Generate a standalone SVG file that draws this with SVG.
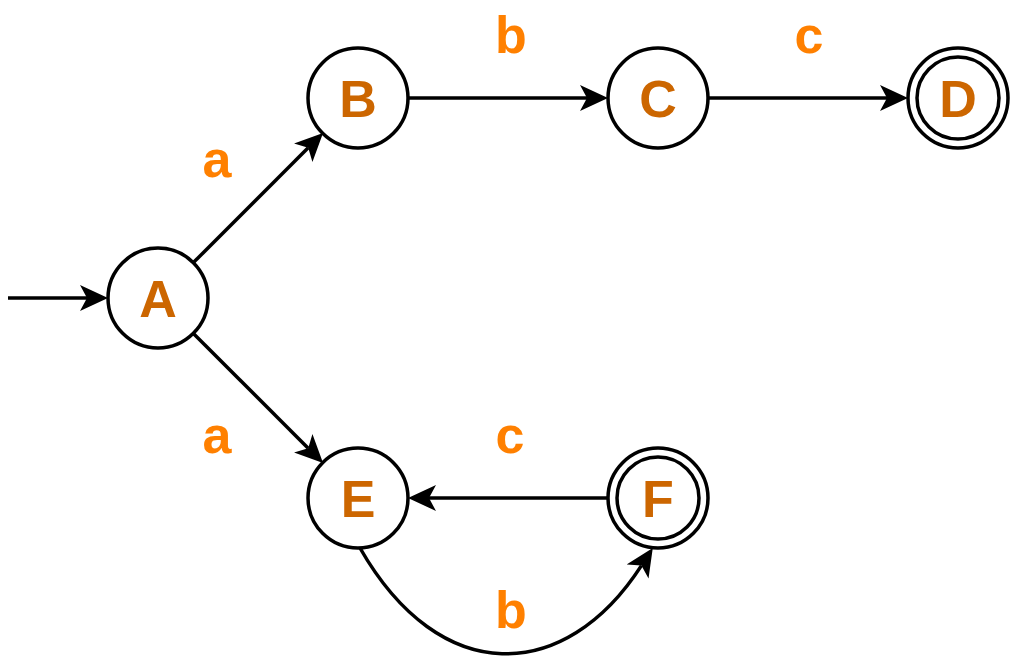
<svg xmlns="http://www.w3.org/2000/svg" width="1018" height="662" viewBox="0 0 1018 662">
  <style>
    .state { fill: #ffffff; stroke: #000000; stroke-width: 3.5; }
    .ring { fill: none; stroke: #000000; stroke-width: 3.5; }
    .name { font-family: "Liberation Sans", Arial, sans-serif; font-weight: bold; font-size: 52px; fill: #CC6600; text-anchor: middle; }
    .sym { font-family: "Liberation Sans", Arial, sans-serif; font-weight: bold; font-size: 52px; fill: #FF8000; text-anchor: middle; }
    .edge { fill: none; stroke: #000000; stroke-width: 3.5; marker-end: url(#head); }
  </style>
  <defs>
    <marker id="head" markerUnits="userSpaceOnUse" viewBox="0 0 28 26" markerWidth="28" markerHeight="26" refX="7" refY="13" orient="auto">
      <path d="M0,0 L28,13 L0,26 L7,13 Z" fill="#000000"/>
    </marker>
  </defs>

  <rect width="1018" height="662" fill="#ffffff"/>

  <g id="connectors">
    <!-- entry arrow into A -->
    <line class="edge" x1="8" y1="298" x2="87" y2="298"/>
    <!-- A -> B -->
    <line class="edge" x1="193.4" y1="262.6" x2="308.2" y2="147.8"/>
    <!-- A -> E -->
    <line class="edge" x1="193.4" y1="333.4" x2="308.2" y2="448.2"/>
    <!-- B -> C -->
    <line class="edge" x1="408" y1="98" x2="587" y2="98"/>
    <!-- C -> D -->
    <line class="edge" x1="708" y1="98" x2="887" y2="98"/>
    <!-- F -> E -->
    <line class="edge" x1="608" y1="498" x2="429" y2="498"/>
    <!-- E -> F (curved) -->
    <path class="edge" d="M 360 548 C 440 688, 565 684, 641.4 565.6"/>
  </g>

  <g id="labels">
    <text class="sym" x="217" y="177">a</text>
    <text class="sym" x="217" y="453">a</text>
    <text class="sym" x="511" y="53">b</text>
    <text class="sym" x="809" y="53">c</text>
    <text class="sym" x="510" y="453">c</text>
    <text class="sym" x="511" y="628">b</text>
  </g>

  <g id="node-A">
    <circle class="state" cx="158" cy="298" r="50"/>
    <text class="name" x="158" y="316.5">A</text>
  </g>
  <g id="node-B">
    <circle class="state" cx="358" cy="98" r="50"/>
    <text class="name" x="358" y="116.5">B</text>
  </g>
  <g id="node-C">
    <circle class="state" cx="658" cy="98" r="50"/>
    <text class="name" x="658" y="116.5">C</text>
  </g>
  <g id="node-D">
    <circle class="state" cx="958" cy="98" r="50"/>
    <circle class="ring" cx="958" cy="98" r="41"/>
    <text class="name" x="958" y="116.5">D</text>
  </g>
  <g id="node-E">
    <circle class="state" cx="358" cy="498" r="50"/>
    <text class="name" x="358" y="516.5">E</text>
  </g>
  <g id="node-F">
    <circle class="state" cx="658" cy="498" r="50"/>
    <circle class="ring" cx="658" cy="498" r="41"/>
    <text class="name" x="658" y="516.5">F</text>
  </g>
</svg>
